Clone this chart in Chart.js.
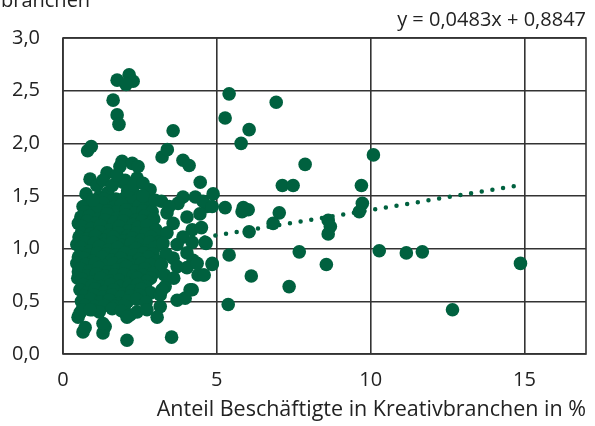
<!DOCTYPE html>
<html>
<head>
<meta charset="utf-8">
<script src="https://cdn.jsdelivr.net/npm/chart.js@4/dist/chart.umd.min.js"></script>
<style>
  html, body { margin: 0; padding: 0; background: #fff; }
  #wrap { width: 595px; height: 426px; }
</style>
</head>
<body>
<div id="wrap"><canvas id="chart" width="595" height="426"></canvas></div>
<script>
// ── DATA ──────────────────────────────────────────────────────────
// x = Anteil Beschäftigte in Kreativbranchen (%), y = Verhältnis
const xTickLabels = ['0', '5', '10', '15'];
const yTickLabels = ['0,0', '0,5', '1,0', '1,5', '2,0', '2,5', '3,0'];

// top of the cloud and the high outliers left of x = 5
const upperPoints = [
  [1.76,2.60],[2.15,2.65],[2.28,2.59],[2.05,2.56],[1.63,2.41],[1.76,2.27],[1.82,2.18],
  [0.80,1.93],[0.92,1.97],[3.58,2.12],[3.22,1.87],[3.39,1.94],[3.90,1.84],[4.10,1.79],
  [4.46,1.63],[4.88,1.52],[4.85,1.40],
  [0.88,1.66],[1.43,1.72],[1.95,1.63],[2.41,1.67],[1.92,1.83],[2.25,1.81],[2.44,1.78],
  [1.85,1.78],[2.02,1.65],[2.83,1.56],[1.10,1.60],[1.30,1.65],[1.60,1.60],[1.75,1.70],
  [2.10,1.55],[2.30,1.60],[2.60,1.62],[2.60,1.50],[3.00,1.46],[0.98,1.46]
];

// points right of x = 5
const widePoints = [
  [5.40,2.47],[6.93,2.39],[5.27,2.24],[6.05,2.13],[5.79,2.00],[7.87,1.80],[10.09,1.89],
  [7.13,1.60],[7.48,1.60],[9.70,1.60],[9.73,1.43],[9.63,1.35],[5.27,1.39],[5.82,1.35],
  [6.02,1.37],[5.86,1.39],[7.03,1.34],[6.83,1.24],[6.05,1.16],[8.62,1.27],[8.69,1.21],
  [8.62,1.14],[4.65,1.05],[5.40,0.94],[7.68,0.97],[10.28,0.98],[4.85,0.85],[4.59,0.75],
  [6.12,0.74],[8.56,0.85],[7.35,0.64],[5.37,0.47],[11.16,0.96],[11.68,0.97],[14.87,0.86],
  [12.66,0.42]
];

// right flank of the cloud, x between 3 and 5
const flankPoints = [
  [3.38,1.34],[3.90,1.49],[4.30,1.49],[4.69,1.40],[3.74,1.43],[4.03,1.30],[3.58,1.24],
  [4.20,1.18],[3.90,1.11],[3.38,1.15],[3.71,1.04],[4.20,1.06],[4.62,1.06],[4.03,0.96],
  [3.58,0.91],[4.23,0.89],[4.85,0.86],[4.56,0.75],[4.03,0.82],[4.20,0.61],[3.97,0.53],
  [3.32,0.64],[3.16,0.56],[3.16,0.45],[3.06,0.35],[3.53,0.16],[3.71,0.51],[4.13,0.61],
  [3.20,1.45],[3.45,1.40],[4.55,1.45],[4.45,1.33],[4.50,1.20],[3.25,1.05],[3.35,0.95],
  [3.20,0.85],[3.71,0.83],[3.30,0.75],[3.60,0.72],[4.39,0.75],[4.36,0.86],[3.22,0.61]
];

// dense core of the cloud
const corePoints = [
  [0.75,1.52],[1.18,1.49],[1.45,1.53],[1.72,1.47],[2.35,1.51],[2.12,1.43],
  [0.85,1.46],[1.32,1.47],[1.58,1.45],[2.00,1.48],[2.25,1.46],[2.75,1.45],
  [0.65,1.40],[1.02,1.38],[1.31,1.43],[1.62,1.39],[1.90,1.42],[2.20,1.37],[2.48,1.41],[2.78,1.38],
  [0.72,1.35],[1.00,1.34],[1.15,1.37],[1.45,1.36],[1.75,1.35],[2.05,1.37],[2.35,1.34],[2.60,1.36],[2.90,1.35],
  [0.58,1.30],[0.85,1.31],[1.15,1.28],[1.44,1.33],[1.76,1.29],[2.04,1.32],[2.37,1.27],[2.66,1.31],[2.95,1.28],
  [0.50,1.24],[0.78,1.26],[1.07,1.24],[1.37,1.27],[1.67,1.25],[1.97,1.26],[2.27,1.23],[2.57,1.26],[2.87,1.24],
  [0.62,1.21],[0.92,1.19],[1.22,1.22],[1.52,1.18],[1.83,1.21],[2.12,1.17],[2.44,1.20],[2.72,1.22],[3.02,1.18],
  [0.60,1.15],[0.90,1.14],[1.20,1.16],[1.50,1.13],[1.80,1.15],[2.10,1.12],[2.40,1.15],[2.70,1.14],[3.00,1.13],
  [0.52,1.11],[0.74,1.09],[1.05,1.12],[1.34,1.08],[1.64,1.11],[1.95,1.07],[2.26,1.10],[2.55,1.08],[2.86,1.11],[3.12,1.06],
  [0.45,1.04],[0.72,1.06],[1.02,1.05],[1.32,1.04],[1.62,1.06],[1.92,1.03],[2.22,1.05],[2.52,1.04],[2.82,1.06],
  [0.58,1.01],[0.88,0.98],[1.18,1.02],[1.48,0.99],[1.78,1.01],[2.08,0.97],[2.38,1.00],[2.68,0.98],[2.98,1.01],
  [0.58,0.96],[0.82,0.94],[1.12,0.96],[1.42,0.95],[1.72,0.94],[2.02,0.96],[2.32,0.94],[2.62,0.96],[2.92,0.95],
  [0.50,0.92],[0.68,0.91],[0.98,0.88],[1.28,0.92],[1.58,0.89],[1.88,0.91],[2.18,0.87],[2.48,0.90],[2.78,0.92],[3.06,0.88],
  [0.45,0.86],[0.75,0.85],[1.05,0.86],[1.35,0.84],[1.65,0.86],[1.95,0.85],[2.25,0.84],[2.55,0.86],[2.85,0.85],
  [0.50,0.78],[0.56,0.81],[0.86,0.79],[1.16,0.82],[1.46,0.78],[1.76,0.80],[2.06,0.83],[2.36,0.79],[2.66,0.81],[2.94,0.77],
  [0.48,0.72],[0.78,0.74],[1.08,0.76],[1.38,0.74],[1.68,0.75],[1.98,0.76],[2.28,0.74],[2.58,0.75],[2.85,0.72],
  [0.62,0.71],[0.92,0.68],[1.22,0.72],[1.52,0.69],[1.82,0.70],[2.12,0.67],[2.42,0.72],[2.72,0.69],
  [0.65,0.66],[0.95,0.65],[1.25,0.64],[1.55,0.66],[1.85,0.64],[2.15,0.65],[2.42,0.66],[2.68,0.64],
  [0.55,0.61],[0.78,0.58],[1.05,0.62],[1.35,0.59],[1.65,0.61],[1.95,0.57],[2.25,0.60],[2.55,0.62],[2.85,0.58],
  [0.70,0.55],[1.00,0.56],[1.30,0.54],[1.60,0.56],[1.90,0.54],[2.20,0.55],[2.50,0.56],
  [0.60,0.50],[0.90,0.52],[1.20,0.49],[1.50,0.51],[1.80,0.48],[2.10,0.50],[2.40,0.52],[2.70,0.49],
  [0.72,0.46],[1.05,0.45],[1.35,0.46],[1.70,0.45],[2.00,0.46],
  [0.95,0.42],[1.18,0.40],[1.60,0.43],[1.90,0.41]
];

// low points under the cloud
const lowerPoints = [
  [2.08,0.13],[1.30,0.20],[1.37,0.26],[0.65,0.21],[0.72,0.25],[0.49,0.35],[0.55,0.39],
  [0.62,0.42],[0.88,0.42],[1.30,0.29],[2.18,0.37],[2.41,0.40],[2.73,0.42],[2.08,0.35]
];

const trendSlope = 0.0483;
const trendIntercept = 0.8847;
const trendFrom = 0.45;
const trendTo = 14.87;

// ── CHART ─────────────────────────────────────────────────────────
const FONT = "'Open Sans', 'Noto Sans', sans-serif";
const GREEN = '#00613f';
const GRID = '#333333';
const TEXT = '#222222';

const allPoints = [...corePoints, ...flankPoints, ...upperPoints, ...lowerPoints, ...widePoints]
  .map(([x, y]) => ({ x, y }));

const trendLine = [trendFrom, trendTo].map(x => ({ x, y: trendIntercept + trendSlope * x }));

// box round the plot + the two loose texts at the top
const extras = {
  id: 'extras',
  afterDatasetsDraw(chart) {
    const { ctx, chartArea: a } = chart;
    ctx.save();
    ctx.strokeStyle = GRID;
    ctx.lineWidth = 1.6;
    ctx.strokeRect(a.left, a.top, a.right - a.left, a.bottom - a.top);
    ctx.fillStyle = TEXT;
    ctx.font = `20px ${FONT}`;
    ctx.textBaseline = 'alphabetic';
    ctx.textAlign = 'left';
    ctx.fillText('branchen', 1, 7);
    ctx.textAlign = 'right';
    ctx.textBaseline = 'middle';
    ctx.fillText('y = 0,0483x + 0,8847', 586, 20);
    ctx.restore();
  }
};

new Chart(document.getElementById('chart'), {
  type: 'scatter',
  data: {
    datasets: [
      {
        type: 'line',
        data: trendLine,
        borderColor: GREEN,
        borderWidth: 4.5,
        borderDash: [0, 10.8],
        borderCapStyle: 'round',
        pointRadius: 0,
        fill: false,
        order: 2,
      },
      {
        data: allPoints,
        backgroundColor: GREEN,
        borderWidth: 0,
        pointRadius: 6.8,
        pointHoverRadius: 6.8,
        order: 1,
      },
    ],
  },
  options: {
    responsive: false,
    animation: false,
    devicePixelRatio: 1,
    layout: { padding: { top: 38, right: 9, left: 0, bottom: 0 } },
    plugins: { legend: { display: false }, tooltip: { enabled: false } },
    scales: {
      x: {
        type: 'linear',
        min: 0, max: 17,
        afterBuildTicks: s => { s.ticks = xTickLabels.map(v => ({ value: Number(v) })); },
        afterFit: s => { s.height = 72; },
        grid: { color: GRID, lineWidth: 1.6, drawTicks: false },
        border: { display: false },
        ticks: {
          padding: 14,
          color: TEXT,
          font: { family: FONT, size: 20 },
          callback: (v) => xTickLabels.find(l => Number(l) === v) ?? '',
        },
        title: {
          display: true,
          text: 'Anteil Beschäftigte in Kreativbranchen in %',
          align: 'end',
          color: TEXT,
          font: { family: FONT, size: 21.5 },
          padding: { top: 0, bottom: 3 },
        },
      },
      y: {
        min: 0, max: 3,
        afterBuildTicks: s => { s.ticks = yTickLabels.map(l => ({ value: Number(l.replace(',', '.')) })); },
        afterFit: s => { s.width = 63; },
        grid: { color: GRID, lineWidth: 1.6, drawTicks: false },
        border: { display: false },
        ticks: {
          padding: 23,
          color: TEXT,
          font: { family: FONT, size: 20 },
          callback: (v) => yTickLabels.find(l => Number(l.replace(',', '.')) === v) ?? '',
        },
      },
    },
  },
  plugins: [extras],
});
</script>
</body>
</html>
